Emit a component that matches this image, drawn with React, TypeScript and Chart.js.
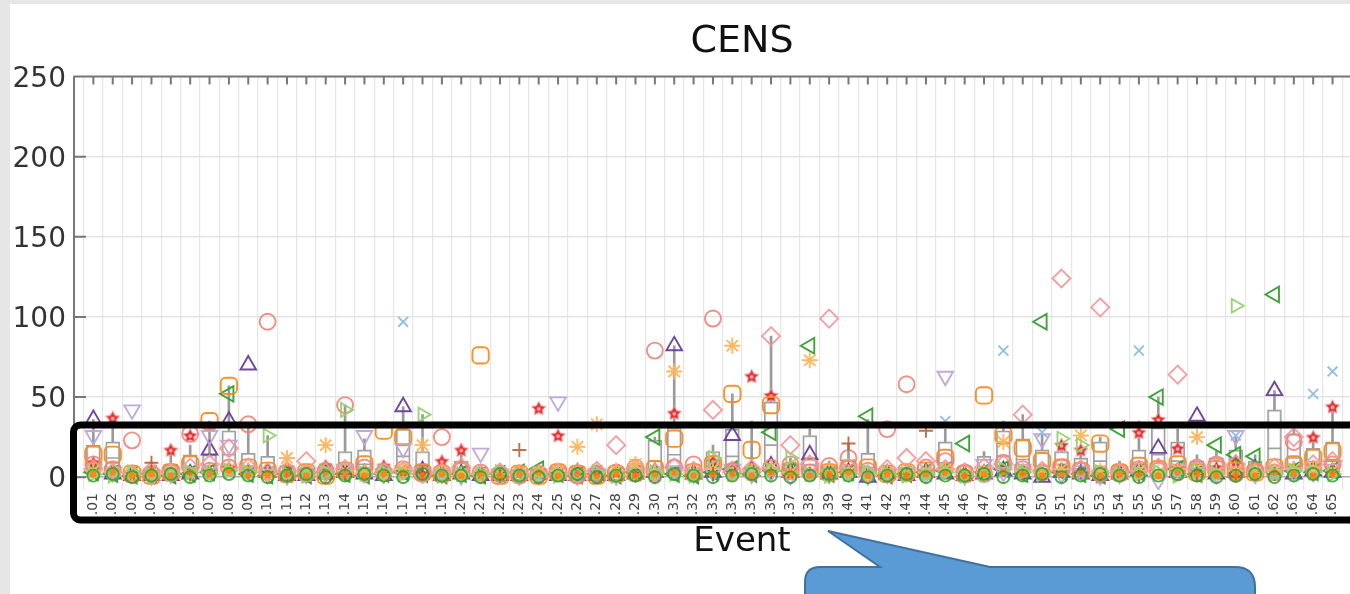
import React, { useEffect, useRef } from "react";
import { Chart, registerables } from "chart.js";
Chart.register(...registerables);

// ---------- data ----------
const categories = [
  ".01", ".02", ".03", ".04", ".05", ".06", ".07", ".08", ".09", ".10",
  ".11", ".12", ".13", ".14", ".15", ".16", ".17", ".18", ".19", ".20",
  ".21", ".22", ".23", ".24", ".25", ".26", ".27", ".28", ".29", ".30",
  ".31", ".32", ".33", ".34", ".35", ".36", ".37", ".38", ".39", ".40",
  ".41", ".42", ".43", ".44", ".45", ".46", ".47", ".48", ".49", ".50",
  ".51", ".52", ".53", ".54", ".55", ".56", ".57", ".58", ".59", ".60",
  ".61", ".62", ".63", ".64", ".65",
];
const yTicks = [0, 50, 100, 150, 200, 250];

const boxLow = [3,4,0,0,1,2,3,6,2,1, 0,0,0,2,3,1,5,2,0,1, 0,0,0,0,0,0,0,0,0,3, 4,0,2,5,1,8,1,4,1,2, 2,0,0,0,3,0,2,5,4,2, 3,2,3,1,2,4,3,1,2,2, 1,5,3,2,3];
const boxHigh = [20,22,3,3,8,14,14,29,15,13, 4,4,4,16,17,6,30,16,5,10, 3,4,4,5,3,3,3,3,3,23, 31,5,16,30,7,47,8,26,7,11, 15,3,5,5,22,2,13,29,24,17, 16,12,22,6,17,31,22,10,12,17, 10,42,27,18,22];
const boxMedian = [10,12,1,1,3,6,7,14,7,5, 2,2,2,7,8,3,13,7,2,4, 1,2,2,2,1,1,1,1,1,10, 14,2,7,13,3,20,3,12,3,5, 6,1,2,2,9,1,6,13,11,7, 8,5,10,3,8,14,10,4,5,7, 4,18,12,8,10];
const whiskerHigh = [36,36,5,5,16,20,35,57,33,26, 6,6,8,45,24,10,44,39,8,16, 5,5,6,8,5,5,5,5,5,25, 82,8,20,52,35,88,12,30,10,21, 36,5,8,8,30,4,16,35,39,27, 21,17,25,10,35,50,30,14,16,25, 14,54,30,25,44];

const salmonCircle = [8,5,23,2,3,27,4,6,33,97, 3,2,4,45,6,3,5,2,25,4, 3,2,1,2,3,1,2,3,6,79, 6,8,99,4,3,6,8,3,7,12, 4,30,58,6,10,3,2,9,5,3, 6,4,2,3,5,4,3,6,8,2, 4,3,22,5,8];
const purpleTriangle = [36,2,1,1,1,2,17,35,70,3, 1,1,2,3,2,1,44,4,1,2, 1,1,1,2,1,1,1,1,2,3, 82,2,3,26,4,7,3,14,2,3, 0,2,1,3,2,1,2,4,2,0, 3,2,1,2,4,18,3,38,2,3, 5,54,2,4,3];
const redStar = [9,37,2,3,17,26,4,6,5,3, 6,2,7,4,3,7,3,2,10,17, 2,1,3,43,26,5,4,3,2,1, 40,4,10,6,63,51,3,3,4,5, 3,2,4,3,6,2,3,5,4,3, 20,17,0,2,28,36,18,4,6,10, 3,3,6,25,44];
const orangeSquare = [14,14,2,1,3,8,35,57,6,4, 2,3,1,4,8,29,25,3,2,4, 76,1,2,1,3,2,1,2,3,5, 24,3,8,52,17,45,4,6,3,5, 6,2,3,4,12,2,51,26,18,10, 6,4,21,3,7,5,8,3,5,4, 3,6,8,12,16];
const lavenderDown = [26,3,42,1,2,3,26,20,4,2, 1,2,3,5,26,2,18,3,2,1, 15,2,1,2,47,1,2,1,3,2, 4,2,3,5,2,3,1,5,2,3, 1,2,3,2,63,1,8,3,5,24, 2,4,1,2,3,-2,5,3,2,26, 2,4,3,3,5];
const greenLeft = [3,2,1,2,1,2,3,52,2,1, 2,1,3,2,1,2,3,2,1,2, 1,2,3,5,2,1,2,1,3,25, 2,1,3,5,2,28,4,82,2,3, 38,1,2,3,4,21,3,5,2,97, 3,2,1,30,3,50,5,2,20,14, 13,114,4,3,4];
const lightGreenRight = [2,1,3,1,2,3,2,4,3,26, 2,1,3,42,2,3,2,39,1,2, 2,3,1,2,1,2,3,1,2,3, 2,1,12,2,3,4,12,2,1,2, 3,2,1,2,3,1,2,5,3,2, 24,20,3,2,2,3,1,4,2,107, 3,2,4,3,2];
const pinkDiamond = [5,3,2,4,3,6,8,18,6,3, 4,10,3,5,2,3,4,2,3,6, 2,3,2,1,3,2,4,20,5,3, 6,4,42,3,5,88,20,8,99,6, 2,5,12,10,5,3,6,8,39,4, 124,5,106,3,4,6,64,5,7,8, 3,6,25,8,10];
const lightBlueX = [null,2,null,null,1,null,3,null,2,null, null,1,null,2,null,null,97,null,1,null, null,null,2,null,null,1,null,null,null,2, null,1,null,null,2,null,null,1,null,null, 2,null,null,1,35,null,null,79,null,28, null,1,null,null,79,null,2,null,null,26, null,1,null,52,66];
const orangeAsterisk = [4,3,2,2,3,2,3,5,4,2, 12,3,20,4,3,2,5,20,3,2, 2,2,3,3,4,19,33,4,8,3, 66,3,5,82,4,6,3,73,4,3, 2,3,4,3,5,2,3,22,4,3, 5,26,4,3,4,3,5,25,3,4, 3,4,5,6,4];
const brownPlus = [null,null,null,9,null,2,null,null,3,null, 1,null,null,2,null,null,null,3,null,null, null,1,17,null,null,2,null,null,1,null, null,null,2,null,null,3,null,null,1,21, null,null,2,29,null,1,null,null,2,null, null,3,null,null,1,null,null,2,null,1, null,2,null,null,3];
const greenCircle = [1,2,0,1,2,0,1,2,1,0, 1,2,0,1,2,1,0,2,1,1, 0,2,1,0,1,2,0,1,1,0, 2,1,0,1,2,1,0,1,2,1, 0,1,2,0,1,1,2,0,1,2, 0,1,2,1,0,1,2,1,0,1, 2,0,1,2,1];
const orangeDot = [2,3,1,2,1,3,2,4,1,2, 2,1,3,2,1,2,3,1,2,1, 2,1,2,3,1,2,1,2,1,2, 3,1,2,2,1,3,2,1,2,3, 1,2,1,2,3,1,2,3,2,1, 2,3,1,2,2,1,3,2,1,2, 1,3,2,1,2];

// ---------- helpers ----------
function toPoints(vals: (number | null)[]) {
  const out: { x: number; y: number }[] = [];
  vals.forEach((v, i) => {
    if (v !== null && v !== undefined) out.push({ x: i + 1, y: v });
  });
  return out;
}

function makeStar(size: number, color: string) {
  const c = document.createElement("canvas");
  c.width = size;
  c.height = size;
  const g = c.getContext("2d")!;
  const cx = size / 2, cy = size / 2 + 0.5;
  const R = size / 2 - 1, r = R * 0.5;
  g.beginPath();
  for (let i = 0; i < 10; i++) {
    const a = -Math.PI / 2 + (i * Math.PI) / 5;
    const rad = i % 2 === 0 ? R : r;
    const px = cx + rad * Math.cos(a), py = cy + rad * Math.sin(a);
    if (i === 0) g.moveTo(px, py); else g.lineTo(px, py);
  }
  g.closePath();
  g.globalAlpha = 0.9;
  g.fillStyle = color;
  g.fill();
  g.lineWidth = 1;
  g.strokeStyle = "#f4a0a0";
  g.stroke();
  g.beginPath();
  g.arc(cx, cy, R * 0.25, 0, Math.PI * 2);
  g.fillStyle = "#f9c0c0";
  g.fill();
  return c;
}

const framePlugin = {
  id: "frameTicks",
  beforeDatasetsDraw(chart: any) {
    const { ctx, chartArea, scales } = chart;
    const xs = scales.x, ys = scales.y;
    ctx.save();
    ctx.strokeStyle = "#777";
    ctx.lineWidth = 2;
    ctx.beginPath();
    ctx.moveTo(chartArea.left, chartArea.top);
    ctx.lineTo(chartArea.right, chartArea.top);
    for (const t of xs.ticks) {
      if (t.value < 1 || t.value > categories.length) continue;
      const px = xs.getPixelForValue(t.value);
      ctx.moveTo(px, chartArea.top);
      ctx.lineTo(px, chartArea.top + 8);
    }
    for (const t of ys.ticks) {
      const py = ys.getPixelForValue(t.value);
      ctx.moveTo(chartArea.left, py);
      ctx.lineTo(chartArea.left + 12, py);
    }
    ctx.stroke();
    ctx.restore();
  },
};

export default function App() {
  const ref = useRef<HTMLCanvasElement>(null);

  useEffect(() => {
    if (!ref.current) return;
    const star = makeStar(17, "#E31A1C");
    const marker = (
      label: string,
      vals: (number | null)[],
      style: any,
      color: string,
      radius: number,
      opts: any = {}
    ) => ({
      type: "scatter" as const,
      label,
      data: toPoints(vals),
      pointStyle: style,
      pointRadius: radius,
      pointBorderColor: color,
      pointBackgroundColor: "rgba(255,255,255,0)",
      pointBorderWidth: 1.9,
      order: 1,
      ...opts,
    });

    const chart = new Chart(ref.current, {
      type: "scatter",
      data: {
        datasets: [
          {
            type: "bar" as const,
            label: "whiskerLow",
            data: boxLow.map((v, i) => ({ x: i + 1, y: [0, v] })),
            backgroundColor: "#9a9a9a",
            borderWidth: 0,
            barThickness: 2,
            grouped: false,
            order: 20,
          } as any,
          {
            type: "bar" as const,
            label: "whiskerHigh",
            data: boxHigh.map((v, i) => ({ x: i + 1, y: [v, whiskerHigh[i]] })),
            backgroundColor: "#9a9a9a",
            borderWidth: 0,
            barThickness: 2,
            grouped: false,
            order: 20,
          } as any,
          {
            type: "bar" as const,
            label: "box",
            data: boxLow.map((v, i) => ({ x: i + 1, y: [v, boxHigh[i]] })),
            backgroundColor: "rgba(255,255,255,0.55)",
            borderColor: "#a0a0a0",
            borderWidth: 1.6,
            borderSkipped: false,
            barThickness: 14,
            grouped: false,
            order: 19,
          } as any,
          {
            type: "scatter" as const,
            label: "median",
            data: toPoints(boxMedian),
            pointStyle: "line",
            pointRadius: 7,
            pointBorderColor: "#a0a0a0",
            pointBorderWidth: 1.6,
            order: 18,
          } as any,
          marker("greenCircle", greenCircle, "circle", "rgba(51,160,44,0.85)", 6),
          marker("orangeDot", orangeDot, "circle", "rgba(255,127,0,0.7)", 2.5, { pointBackgroundColor: "rgba(255,127,0,0.7)" }),
          marker("lightGreenRight", lightGreenRight, "triangle", "rgba(150,210,110,0.95)", 8, { pointRotation: 90 }),
          marker("lightBlueX", lightBlueX, "crossRot", "rgba(140,190,225,0.95)", 7),
          marker("brownPlus", brownPlus, "cross", "rgba(177,89,40,0.85)", 7),
          marker("orangeAsterisk", orangeAsterisk, "star", "rgba(253,180,90,0.95)", 8),
          marker("pinkDiamond", pinkDiamond, "rectRot", "rgba(245,150,150,0.9)", 9),
          marker("salmonCircle", salmonCircle, "circle", "rgba(240,130,120,0.9)", 8),
          marker("lavenderDown", lavenderDown, "triangle", "rgba(190,165,215,0.95)", 9, { pointRotation: 180 }),
          marker("orangeSquare", orangeSquare, "rectRounded", "rgba(245,140,30,0.95)", 9.5),
          marker("greenLeft", greenLeft, "triangle", "rgba(51,160,44,0.95)", 9, { pointRotation: -90 }),
          marker("purpleTriangle", purpleTriangle, "triangle", "rgba(106,61,154,0.95)", 9),
          marker("redStar", redStar, star, "#E31A1C", 8),
        ],
      },
      options: {
        responsive: false,
        animation: false,
        events: [],
        layout: { padding: { left: 0, right: 50, top: 0, bottom: 0 } },
        plugins: {
          legend: { display: false },
          tooltip: { enabled: false },
          title: {
            display: true,
            fullSize: false,
            text: "CENS",
            color: "#111",
            font: { family: "DejaVu Sans", size: 38, weight: "normal" },
            padding: { top: 19, bottom: 12 },
          },
        },
        scales: {
          x: {
            type: "linear",
            min: 0,
            max: 69,
            offset: false,
            afterFit: (s: any) => { s.height = 104; },
            afterBuildTicks: (axis: any) => {
              const t: any[] = [];
              for (let v = 0; v <= 69; v++) t.push({ value: v });
              axis.ticks = t;
            },
            grid: {
              color: (c: any) => (c.tick && c.tick.value === 0 ? "rgba(0,0,0,0)" : "#e6e6e6"),
              lineWidth: 1.2,
              drawTicks: false,
            },
            border: { display: false },
            ticks: {
              autoSkip: false,
              minRotation: 90,
              maxRotation: 90,
              padding: 3,
              color: "#444",
              font: { family: "DejaVu Sans", size: 14 },
              callback: (v: any) => {
                const n = Number(v);
                return n >= 1 && n <= categories.length ? categories[n - 1] : "";
              },
            },
            title: {
              display: true,
              text: "Event",
              color: "#111",
              font: { family: "DejaVu Sans", size: 34, weight: "normal" },
              padding: { top: 0, bottom: 31 },
            },
          },
          y: {
            type: "linear",
            min: -8,
            max: 250,
            afterFit: (s: any) => { s.width = 74; },
            afterBuildTicks: (axis: any) => {
              axis.ticks = yTicks.map((v) => ({ value: v }));
            },
            grid: {
              color: (c: any) => (c.tick && c.tick.value === 0 ? "#b0b0b0" : "#e0e0e0"),
              lineWidth: (c: any) => (c.tick && c.tick.value === 0 ? 1.5 : 1.2),
              drawTicks: false,
            },
            border: { display: true, color: "#777", width: 2 },
            ticks: {
              padding: 8,
              labelOffset: 3,
              color: "#333",
              font: { family: "DejaVu Sans", size: 28 },
            },
          },
        },
      },
      plugins: [framePlugin],
    } as any);
    return () => chart.destroy();
  }, []);

  return (
    <div
      style={{
        position: "fixed",
        left: 0,
        top: 0,
        width: 1350,
        height: 594,
        overflow: "hidden",
        background: "#ffffff",
      }}
    >
      <div style={{ position: "absolute", left: 0, top: 0, width: 1350, height: 4, background: "#e6e6e6" }} />
      <div style={{ position: "absolute", left: 0, top: 0, width: 10, height: 594, background: "#e6e6e6" }} />
      <canvas
        ref={ref}
        width={1460}
        height={594}
        style={{ position: "absolute", left: 0, top: 0 }}
      />
      <svg
        width={1350}
        height={594}
        style={{ position: "absolute", left: 0, top: 0, pointerEvents: "none" }}
      >
        <rect x={73.5} y={425} width={1320} height={95} rx={7} ry={7} fill="none" stroke="#000" strokeWidth={7} />
        <path
          d="M 820 567 L 880 567 L 828 531 L 990 567 L 1235 567 Q 1255 567 1255 587 L 1255 620 L 805 620 L 805 582 Q 805 567 820 567 Z"
          fill="#5B9BD5"
          stroke="#41719C"
          strokeWidth={2}
        />
      </svg>
    </div>
  );
}
